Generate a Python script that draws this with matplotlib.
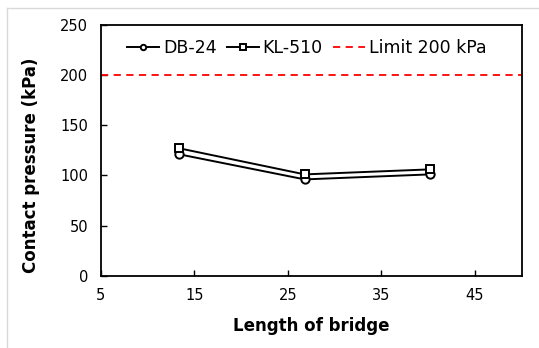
import matplotlib
matplotlib.use("Agg")
import matplotlib.pyplot as plt
from matplotlib.lines import Line2D

lengths = [13.4, 26.8, 40.2]
db24 = [121, 96, 101]
kl510 = [127, 101, 106]
limit = 200
xticks = [5, 15, 25, 35, 45]
yticks = [0, 50, 100, 150, 200, 250]

plt.rcParams['font.family'] = ['DejaVu Sans']
fig = plt.figure(figsize=(5.39, 3.48), dpi=100)
ax = fig.add_axes([0.187, 0.208, 0.781, 0.72])

x0, y0 = 7/539, 1 - 8/348
fig.lines.append(Line2D([x0, x0], [0, y0], transform=fig.transFigure, color='#d9d9d9', lw=1.0))
fig.lines.append(Line2D([x0, 1], [y0, y0], transform=fig.transFigure, color='#d9d9d9', lw=1.0))

ax.plot(lengths, db24, color='black', lw=1.4, marker='o', ms=6, mfc='white', mec='black', mew=1.4, label='DB-24')
ax.plot(lengths, kl510, color='black', lw=1.4, marker='s', ms=6, mfc='white', mec='black', mew=1.4, label='KL-510')
ax.axhline(limit, color='#ff0000', lw=1.3, ls=(0, (4, 3)), label='Limit 200 kPa')

ax.set_xlim(5, 50)
ax.set_ylim(0, 250)
ax.set_xticks(xticks)
ax.set_yticks(yticks)
ax.tick_params(direction='in', length=4, width=1, labelsize=10.5, pad=9)
for s in ax.spines.values():
    s.set_linewidth(1.3)

ax.set_xlabel('Length of bridge', fontsize=12, fontweight='bold', labelpad=10)
ax.set_ylabel('Contact pressure (kPa)', fontsize=12, fontweight='bold')
ax.yaxis.set_label_coords(-0.145, 0.44)

ax.legend(loc='upper left', ncol=3, frameon=False, fontsize=12.5, handlelength=1.85,
          handletextpad=0.2, columnspacing=0.6, markerscale=0.65,
          bbox_to_anchor=(0.03, 1.0), borderaxespad=0.4)

fig.savefig('out.png', dpi=100)
